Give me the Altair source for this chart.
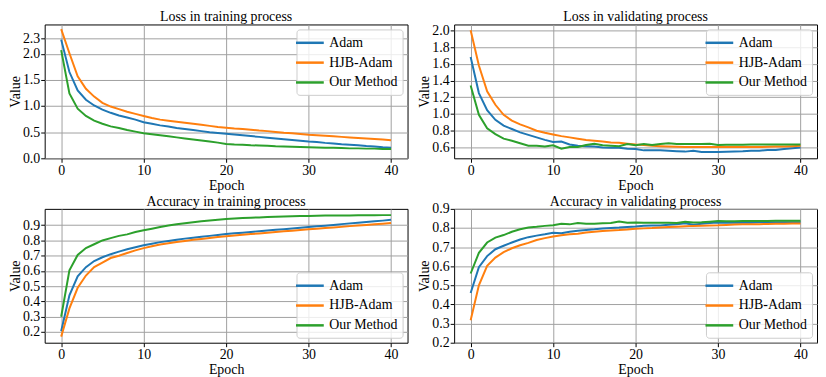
import altair as alt
import pandas as pd

epochs = list(range(41))
series_names = ["Adam", "HJB-Adam", "Our Method"]
colors = ["#1f77b4", "#ff7f0e", "#2ca02c"]
panel_titles = ["Loss in training process", "Loss in validating process",
                "Accuracy in training process", "Accuracy in validating process"]

# Loss in training process
loss_train_adam = [2.27,1.65,1.30,1.12,1.01,0.93,0.87,0.82,0.78,0.74,0.69,0.66,0.63,0.61,0.58,0.56,0.54,0.52,0.50,0.485,0.47,0.455,0.44,0.425,0.41,0.395,0.38,0.365,0.35,0.335,0.32,0.31,0.295,0.285,0.27,0.26,0.25,0.235,0.225,0.21,0.20]
loss_train_hjb = [2.47,2.01,1.57,1.33,1.18,1.06,0.99,0.94,0.89,0.85,0.81,0.77,0.74,0.72,0.70,0.68,0.66,0.64,0.62,0.60,0.585,0.57,0.56,0.545,0.53,0.52,0.505,0.49,0.48,0.465,0.45,0.44,0.43,0.42,0.41,0.40,0.39,0.38,0.37,0.36,0.345]
loss_train_ours = [2.07,1.24,0.95,0.81,0.72,0.66,0.61,0.58,0.54,0.51,0.48,0.46,0.44,0.42,0.40,0.38,0.36,0.34,0.32,0.30,0.275,0.265,0.26,0.25,0.245,0.24,0.23,0.225,0.22,0.215,0.21,0.205,0.20,0.20,0.195,0.19,0.19,0.185,0.185,0.18,0.18]

# Loss in validating process
loss_val_adam = [1.68,1.25,1.045,0.93,0.86,0.82,0.78,0.75,0.72,0.69,0.665,0.67,0.635,0.62,0.615,0.61,0.60,0.595,0.595,0.585,0.58,0.565,0.565,0.565,0.56,0.555,0.55,0.56,0.545,0.545,0.545,0.548,0.55,0.553,0.56,0.56,0.57,0.57,0.58,0.59,0.60]
loss_val_hjb = [2.00,1.58,1.27,1.11,0.99,0.92,0.875,0.84,0.80,0.775,0.755,0.735,0.72,0.705,0.69,0.68,0.67,0.66,0.655,0.645,0.635,0.63,0.62,0.615,0.61,0.607,0.605,0.605,0.605,0.605,0.605,0.605,0.605,0.605,0.605,0.605,0.607,0.61,0.612,0.615,0.62]
loss_val_ours = [1.34,0.99,0.83,0.76,0.705,0.68,0.65,0.62,0.62,0.61,0.625,0.585,0.605,0.605,0.63,0.645,0.625,0.62,0.615,0.64,0.625,0.64,0.63,0.64,0.65,0.64,0.64,0.64,0.64,0.645,0.63,0.632,0.633,0.633,0.634,0.634,0.635,0.635,0.635,0.635,0.635]

# Accuracy in training process
acc_train_adam = [0.205,0.44,0.565,0.625,0.665,0.69,0.71,0.727,0.742,0.756,0.768,0.779,0.789,0.797,0.805,0.812,0.818,0.824,0.83,0.836,0.842,0.847,0.851,0.856,0.861,0.865,0.87,0.874,0.879,0.884,0.888,0.893,0.897,0.902,0.907,0.912,0.916,0.921,0.926,0.93,0.935]
acc_train_hjb = [0.17,0.355,0.49,0.57,0.625,0.655,0.685,0.70,0.718,0.735,0.75,0.762,0.773,0.782,0.79,0.797,0.804,0.81,0.816,0.822,0.828,0.833,0.837,0.842,0.846,0.851,0.855,0.86,0.864,0.869,0.873,0.877,0.881,0.885,0.889,0.894,0.898,0.902,0.906,0.91,0.914]
acc_train_ours = [0.30,0.605,0.705,0.75,0.775,0.80,0.815,0.83,0.84,0.855,0.867,0.877,0.888,0.898,0.906,0.913,0.92,0.926,0.931,0.936,0.941,0.944,0.947,0.949,0.951,0.953,0.955,0.957,0.959,0.96,0.961,0.962,0.963,0.963,0.964,0.964,0.965,0.965,0.965,0.966,0.966]

# Accuracy in validating process
acc_val_adam = [0.46,0.595,0.653,0.689,0.707,0.724,0.74,0.752,0.76,0.767,0.775,0.772,0.78,0.786,0.79,0.793,0.797,0.8,0.802,0.805,0.808,0.812,0.813,0.813,0.817,0.82,0.825,0.817,0.822,0.826,0.828,0.828,0.827,0.829,0.828,0.83,0.829,0.83,0.83,0.83,0.83]
acc_val_hjb = [0.318,0.50,0.602,0.645,0.674,0.694,0.71,0.722,0.737,0.747,0.755,0.762,0.767,0.77,0.776,0.78,0.784,0.787,0.789,0.792,0.796,0.798,0.80,0.803,0.805,0.807,0.809,0.811,0.812,0.813,0.814,0.816,0.818,0.82,0.819,0.82,0.821,0.822,0.822,0.823,0.824]
acc_val_ours = [0.562,0.67,0.724,0.75,0.763,0.78,0.793,0.803,0.806,0.811,0.814,0.822,0.819,0.826,0.822,0.822,0.825,0.826,0.834,0.828,0.829,0.828,0.828,0.828,0.827,0.826,0.832,0.829,0.83,0.833,0.836,0.835,0.835,0.836,0.836,0.837,0.837,0.838,0.838,0.838,0.838]

x_ticks = [0, 10, 20, 30, 40]
FONT = "Liberation Serif"
W, H = 366, 135


def frame(a, b, c):
    rows = []
    for name, vals in zip(series_names, [a, b, c]):
        for e, v in zip(epochs, vals):
            rows.append({"Epoch": e, "Value": v, "Method": name})
    return pd.DataFrame(rows)


def panel(df, title, ydomain, yticks, legend_orient):
    lines = alt.Chart(df).mark_line(strokeWidth=2).encode(
        x=alt.X("Epoch:Q",
                scale=alt.Scale(domain=[-2, 42], nice=False, zero=False),
                axis=alt.Axis(values=x_ticks, format="d", title="Epoch",
                              titlePadding=1)),
        y=alt.Y("Value:Q",
                scale=alt.Scale(domain=ydomain, nice=False, zero=False),
                axis=alt.Axis(values=yticks, format=".1f", title="Value")),
        color=alt.Color("Method:N",
                        scale=alt.Scale(domain=series_names, range=colors),
                        legend=alt.Legend(title=None, orient=legend_orient,
                                          symbolType="M-2,0L2,0", symbolSize=196,
                                          symbolStrokeWidth=2.5,
                                          labelFont=FONT, labelFontSize=14,
                                          labelColor="black", labelOffset=11,
                                          padding=5, rowPadding=4, offset=5,
                                          strokeColor="#cccccc",
                                          fillColor="rgba(255,255,255,0.8)",
                                          cornerRadius=3)),
    )
    head = alt.Chart(pd.DataFrame({"t": [title]})).mark_text(
        font=FONT, fontSize=14, color="black", align="center", baseline="alphabetic"
    ).encode(text="t:N", x=alt.value(W / 2), y=alt.value(-3))
    return alt.layer(lines, head).properties(width=W, height=H)


p1 = panel(frame(loss_train_adam, loss_train_hjb, loss_train_ours),
           panel_titles[0], [0, 2.56], [0, 0.5, 1.0, 1.5, 2.0, 2.3], "top-right")
p2 = panel(frame(loss_val_adam, loss_val_hjb, loss_val_ours),
           panel_titles[1], [0.47, 2.07], [0.6, 0.8, 1.0, 1.2, 1.4, 1.6, 1.8, 2.0], "top-right")
p3 = panel(frame(acc_train_adam, acc_train_hjb, acc_train_ours),
           panel_titles[2], [0.13, 1.007], [0.2, 0.3, 0.4, 0.5, 0.6, 0.7, 0.8, 0.9], "bottom-right")
p4 = panel(frame(acc_val_adam, acc_val_hjb, acc_val_ours),
           panel_titles[3], [0.2, 0.9], [0.2, 0.3, 0.4, 0.5, 0.6, 0.7, 0.8, 0.9], "bottom-right")

chart = alt.concat(
    p1, p2, p3, p4, columns=2, spacing=alt.RowColnumber(row=1, column=9)
).resolve_scale(color="independent").resolve_legend(
    color="independent"
).properties(padding=0).configure_view(
    stroke="black", strokeWidth=1
).configure_axis(
    labelFont=FONT, labelFontSize=14, labelColor="black", labelFlush=False,
    labelPadding=1,
    titleFont=FONT, titleFontSize=14, titleFontWeight="normal", titleColor="black",
    titlePadding=0,
    domain=False, tickColor="black", tickSize=4, tickWidth=1,
    gridColor="#a0a0a0", gridWidth=1, gridOpacity=1,
)

chart.save("out.html", embed_options={"renderer": "svg", "actions": False})
